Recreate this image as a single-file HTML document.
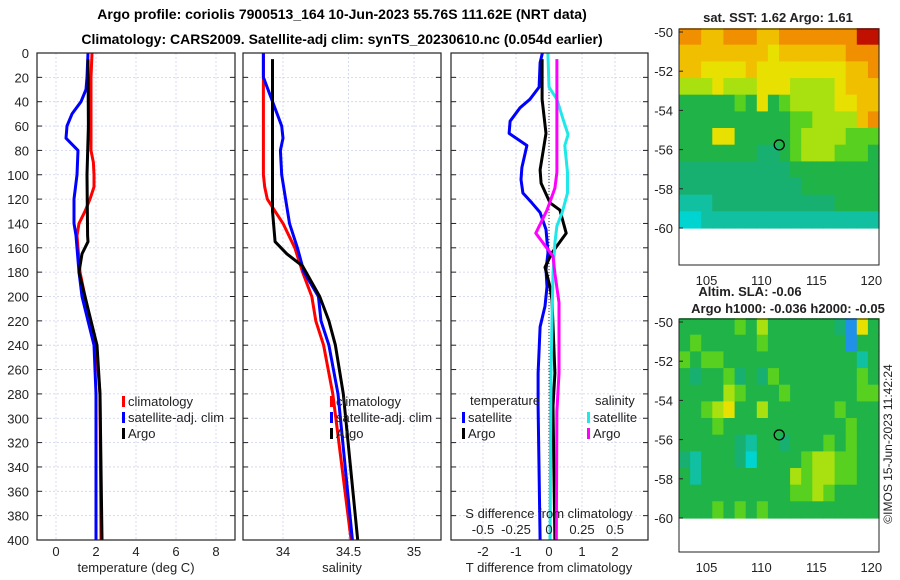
<!DOCTYPE html>
<html><head><meta charset="utf-8">
<style>
html,body{margin:0;padding:0;background:#fff;}
svg{display:block;font-family:"Liberation Sans",sans-serif;}
</style></head>
<body>
<svg id="fig" width="900" height="580" viewBox="0 0 900 580">
<text x="342" y="19" text-anchor="middle" font-size="14" font-weight="bold">Argo profile: coriolis 7900513_164 10-Jun-2023 55.76S 111.62E (NRT data)</text>
<text x="342" y="44" text-anchor="middle" font-size="14" font-weight="bold">Climatology: CARS2009. Satellite-adj clim: synTS_20230610.nc (0.054d earlier)</text>
<g id="g"></g>
</svg>
<script>
// ---- profile data (depth in m) ----
const tClimDepth=[0,20,80,90,100,110,120,130,140,150,180,200,240,280,400];
const tClimVal=[1.8,1.75,1.75,1.87,1.9,1.9,1.7,1.45,1.15,1.05,1.2,1.45,2.0,2.2,2.25];
const tSatDepth=[0,20,30,40,50,60,70,80,100,120,140,150,180,200,240,280,400];
const tSatVal=[1.6,1.55,1.5,1.25,0.8,0.55,0.5,1.1,1.05,0.9,0.9,1.0,1.15,1.3,1.9,2.0,2.0];
const tArgoDepth=[5,60,100,150,155,165,180,200,240,280,400];
const tArgoVal=[1.6,1.62,1.55,1.58,1.6,1.3,1.15,1.45,2.05,2.2,2.3];
const sClimDepth=[0,100,110,120,130,140,160,180,200,220,240,280,400];
const sClimVal=[33.85,33.85,33.86,33.88,33.94,34.0,34.09,34.15,34.22,34.25,34.31,34.38,34.52];
const sSatDepth=[0,20,60,70,80,100,120,140,160,180,200,220,240,280,400];
const sSatVal=[33.85,33.85,33.99,34.0,33.98,33.99,34.02,34.05,34.11,34.16,34.27,34.29,34.35,34.42,34.53];
const sArgoDepth=[5,130,155,165,175,200,220,240,280,400];
const sArgoVal=[33.92,33.92,33.94,34.03,34.15,34.28,34.35,34.4,34.46,34.57];
const dTSatDepth=[0,8,28,38,45,56,66,76,94,104,115,123,131,145,164,178,192,208,225,263,290,400];
const dTSatVal=[-0.2,-0.27,-0.3,-0.58,-0.88,-1.18,-1.21,-0.67,-0.82,-0.85,-0.79,-0.52,-0.27,-0.09,-0.03,-0.09,-0.06,-0.12,-0.27,-0.33,-0.33,-0.27];
const dTArgoDepth=[5,38,66,96,107,123,129,148,164,176,192,203,263,290,400];
const dTArgoVal=[-0.21,-0.21,-0.09,-0.27,-0.24,0.03,0.33,0.52,0.09,-0.12,0.03,0.09,0.18,0.12,0.18];
const dSSatDepth=[0,28,38,54,67,76,98,115,131,142,156,181,208,263,400];
const dSSatVal=[-0.008,0.0,0.06,0.105,0.145,0.12,0.14,0.14,0.1,0.06,0.045,0.03,0.025,0.015,0.008];
const dSArgoDepth=[5,98,111,129,148,167,181,205,263,294,400];
const dSArgoVal=[0.06,0.06,0.045,-0.015,-0.1,0.03,0.045,0.076,0.076,0.06,0.055];
const depthTicks=[0,20,40,60,80,100,120,140,160,180,200,220,240,260,280,300,320,340,360,380,400];
const tTicks=[0,2,4,6,8];
const sTicks=[34,34.5,35];
const dTTicks=[-2,-1,0,1,2];
const dSTicks=[-0.5,-0.25,0,0.25,0.5];
const dSTickLabels=["-0.5","-0.25","0","0.25","0.5"];
// ---- map data ----
const sstTitle="sat. SST: 1.62 Argo: 1.61";
const sstRows=[
"887788877888888899","777777776777777888","776666766666666778","555655566655556777",
"333334363455556677","333333333344555578","333663333345555444","333333322345554443",
"222222222233333333","222222222223333333","111222222222223333","001111111111111111"];
const slaRows=[
"333334353333332b63","343333343333333b33","434433333333333313","323342324333333343",
"333354333433333344","334563353333334333","333433333333333433","333332133233343433",
"213332033334554433","313333333354554433","333333333344543333","333434343333333333"];
const mapLatTicks=[-50,-52,-54,-56,-58,-60];
const mapLonTicks=[105,110,115,120];
const argoLon=111.62, argoLat=-55.76;

const NS="http://www.w3.org/2000/svg";
const G=document.getElementById('g');
function el(tag,attrs,parent){const e=document.createElementNS(NS,tag);for(const k in attrs)e.setAttribute(k,attrs[k]);(parent||G).appendChild(e);return e;}
const yTop=53, yBot=540;
function yD(d){return yTop+(d/400)*(yBot-yTop);}
function lin(d0,d1,p0,p1){return v=>p0+(v-d0)/(d1-d0)*(p1-p0);}
const panels=[
 {x0:37,x1:235,sx:lin(0,8,56,216),name:'temperature-panel'},
 {x0:243,x1:441,sx:lin(34,35,283,414),name:'salinity-panel'},
 {x0:451,x1:648,sx:lin(0,1,549,582),name:'difference-panel'}];
const sxS=lin(0,0.25,549,582);

function grid(p,xt){
 for(const d of depthTicks){
  const l=el('line',{x1:p.x0,x2:p.x1,y1:yD(d),y2:yD(d),stroke:'#ccd2ee','stroke-width':0.8,'stroke-dasharray':'2,2'});
  
  
  const t1=el('line',{x1:p.x0,x2:p.x0+5,y1:yD(d),y2:yD(d),stroke:'#222'});
  
  
  const t2=el('line',{x1:p.x1-5,x2:p.x1,y1:yD(d),y2:yD(d),stroke:'#222'});
  
  
 }
 for(const v of xt){
  const l=el('line',{x1:p.sx(v),x2:p.sx(v),y1:yTop,y2:yBot,stroke:'#ccd2ee','stroke-width':0.8,'stroke-dasharray':'2,2'});
  
  
 }
}
function frame(p){
 const r=el('rect',{x:p.x0,y:yTop,width:p.x1-p.x0,height:yBot-yTop,fill:'none',stroke:'#222','stroke-width':1.2});
 
 
}
function line(depths,vals,fx,color,name){
 const pts=depths.map((d,i)=>fx(vals[i]).toFixed(1)+','+yD(d).toFixed(1)).join(' ');
 const pl=el('polyline',{points:pts,fill:'none',stroke:color,'stroke-width':3,'stroke-linejoin':'round'});
 
 
}
function txt(x,y,s,size,anchor,name,extra){
 const t=el('text',Object.assign({x:x,y:y,'font-size':size,'text-anchor':anchor||'start',fill:'#222'},extra||{}));
 t.textContent=s;
 
 
 return t;
}
grid(panels[0],tTicks);grid(panels[1],sTicks);grid(panels[2],dTTicks);
const zl=el('line',{x1:549,x2:549,y1:yTop,y2:yBot,stroke:'#333','stroke-width':1,'stroke-dasharray':'1,2'});



const P0=panels[0].sx,P1=panels[1].sx,P2=panels[2].sx;
line(tClimDepth,tClimVal,P0,'#ff0000','temperature-climatology-line');
line(tSatDepth,tSatVal,P0,'#0000ff','temperature-satellite-line');
line(tArgoDepth,tArgoVal,P0,'#000000','temperature-argo-line');
line(sClimDepth,sClimVal,P1,'#ff0000','salinity-climatology-line');
line(sSatDepth,sSatVal,P1,'#0000ff','salinity-satellite-line');
line(sArgoDepth,sArgoVal,P1,'#000000','salinity-argo-line');
line(dTSatDepth,dTSatVal,P2,'#0000ff','t-diff-satellite-line');
line(dTArgoDepth,dTArgoVal,P2,'#000000','t-diff-argo-line');
line(dSSatDepth,dSSatVal,sxS,'#20e8e8','s-diff-satellite-line');
line(dSArgoDepth,dSArgoVal,sxS,'#ff00ff','s-diff-argo-line');
panels.forEach(frame);

for(const d of depthTicks) txt(29,yD(d)+5,String(d),13,'end','depth-tick-label');
for(const v of tTicks) txt(P0(v),556,String(v),13,'middle','temperature-tick-label');
for(const v of sTicks) txt(P1(v),556,String(v),13,'middle','salinity-tick-label');
for(const v of dTTicks) txt(P2(v),556,String(v),13,'middle','t-diff-tick-label');
dSTicks.forEach((v,i)=>txt(sxS(v),534,dSTickLabels[i],13,'middle','s-diff-tick-label'));
txt(549,518,'S difference from climatology',13,'middle','s-diff-axis-title');
txt(136,572,'temperature (deg C)',13,'middle','temperature-axis-title');
txt(342,572,'salinity',13,'middle','salinity-axis-title');
txt(549,572,'T difference from climatology',13,'middle','t-diff-axis-title');

function legItem(x,y,color,label,name){
 const m=el('rect',{x:x,y:y-10,width:3,height:11,fill:color});
 
 
 txt(x+6,y,label,13,'start',name+'-label');
}
legItem(122,406,'#ff0000','climatology','legend-climatology');
legItem(122,422,'#0000ff','satellite-adj. clim','legend-satellite-adj');
legItem(122,438,'#000000','Argo','legend-argo');
legItem(330,406,'#ff0000','climatology','legend-climatology');
legItem(330,422,'#0000ff','satellite-adj. clim','legend-satellite-adj');
legItem(330,438,'#000000','Argo','legend-argo');
txt(470,405,'temperature',13,'start','legend-temperature-heading');
legItem(462,422,'#0000ff','satellite','legend-t-satellite');
legItem(462,438,'#000000','Argo','legend-t-argo');
txt(595,405,'salinity',13,'start','legend-salinity-heading');
legItem(587,422,'#20e8e8','satellite','legend-s-satellite');
legItem(587,438,'#ff00ff','Argo','legend-s-argo');

const pal={'0':'#00d4d0','1':'#10c0a0','2':'#18b070','3':'#20b448','4':'#58d020','5':'#a8e010','6':'#e8e000','7':'#f0c000','8':'#f09000','9':'#c01000','b':'#2090e8'};
function drawMap(rows,boxTop,boxBot,lat50y,lat60y,prefix){
 const x0=679,x1=879;
 const lonX=lin(102.5,120.7,x0,x1);
 const latY=lin(-50,-60,lat50y,lat60y);
 const nR=rows.length,nC=rows[0].length;
 const dLat=(60-49.8)/nR, dLon=(120.7-102.5)/nC;
 rows.forEach((row,r)=>{
  for(let c=0;c<nC;c++){
   const ya=latY(-49.8-r*dLat), yb=latY(-49.8-(r+1)*dLat);
   const xa=lonX(102.5+c*dLon), xb=lonX(102.5+(c+1)*dLon);
   const cell=el('rect',{x:xa.toFixed(1),y:ya.toFixed(1),width:(xb-xa+0.6).toFixed(1),height:(yb-ya+0.6).toFixed(1),fill:pal[row[c]]});
   
   
  }
 });
 const fr=el('rect',{x:x0,y:boxTop,width:x1-x0,height:boxBot-boxTop,fill:'none',stroke:'#222','stroke-width':1});
 
 
 for(const la of mapLatTicks){
  txt(673,latY(la)+5,String(la),13,'end',prefix+'-lat-label');
  const tk=el('line',{x1:x0,x2:x0+4,y1:latY(la),y2:latY(la),stroke:'#222'});
  
  
 }
 for(const lo of mapLonTicks){
  txt(lonX(lo),boxBot+20,String(lo),13,'middle',prefix+'-lon-label');
 }
 const c=el('circle',{cx:lonX(argoLon),cy:latY(argoLat),r:5,fill:'none',stroke:'#000','stroke-width':1.3});
 
 
}
drawMap(sstRows,29,265,32,228,'sst-map');
txt(778,22,sstTitle,13,'middle','sst-map-title',{'font-weight':'bold'});
drawMap(slaRows,319,552,322,518,'sla-map');
txt(750,296,'Altim. SLA: -0.06',13,'middle','sla-map-title',{'font-weight':'bold'});
txt(788,313,'Argo h1000: -0.036 h2000: -0.05',13,'middle','sla-argo-title',{'font-weight':'bold'});
txt(0,0,'©IMOS 15-Jun-2023 11:42:24',12,'middle','copyright-text',{transform:'translate(892,444) rotate(-90)'});
</script>
</body></html>
